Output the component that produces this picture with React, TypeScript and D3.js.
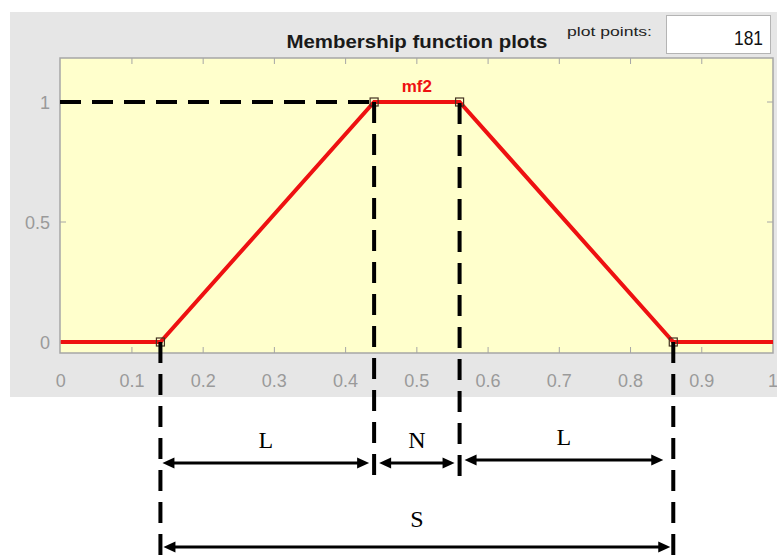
import * as d3 from "d3";

// membership function "mf2" (trapmf) and the curve drawn from it
const mfName = "mf2";
const mfParams = [0.14, 0.44, 0.56, 0.86];
const curveX = [0, 0.14, 0.44, 0.56, 0.86, 1];
const curveY = [0, 0, 1, 1, 0, 0];

const xTicks = [0, 0.1, 0.2, 0.3, 0.4, 0.5, 0.6, 0.7, 0.8, 0.9, 1];
const xTickLabels = ["0", "0.1", "0.2", "0.3", "0.4", "0.5", "0.6", "0.7", "0.8", "0.9", "1"];
const yTicks = [0, 0.5, 1];
const yTickLabels = ["0", "0.5", "1"];

// dimension annotations between consecutive breakpoints, and over the whole support
const spanLabels = ["L", "N", "L"];
const totalLabel = "S";
const plotPoints = "181";

const W = 777;
const H = 555;

const PLOT = { left: 60, right: 773, top: 58, bottom: 353 };

const x = d3.scaleLinear().domain([0, 1]).range([60.7, 773]);
const y = d3.scaleLinear().domain([0, 1]).range([342, 102]);

const uiFont = "'Liberation Sans', Arial, sans-serif";
const serif = "'Liberation Serif', 'Times New Roman', serif";

const Arrow = ({ x1, x2, yy }: { x1: number; x2: number; yy: number }) => {
  const h = 12;
  const w = 5.5;
  return (
    <g>
      <line x1={x1 + h - 1} x2={x2 - h + 1} y1={yy} y2={yy} stroke="#000" strokeWidth={3} />
      <path d={`M${x1},${yy} L${x1 + h},${yy - w} L${x1 + h},${yy + w} Z`} fill="#000" />
      <path d={`M${x2},${yy} L${x2 - h},${yy - w} L${x2 - h},${yy + w} Z`} fill="#000" />
    </g>
  );
};

export default function App() {
  const line = d3
    .line<number>()
    .x((d) => x(d))
    .y((_, i) => y(curveY[i]));

  const px = mfParams.map((p) => x(p));
  const dash = "21 11";

  return (
    <svg
      width={W}
      height={H}
      style={{ position: "absolute", left: 0, top: 0, display: "block", background: "#fff" }}
    >
      {/* gray figure panel */}
      <rect x={10} y={12} width={W - 10} height={385} fill="#e6e6e6" />

      <text
        x={417}
        y={48}
        textAnchor="middle"
        fontFamily={uiFont}
        fontWeight="bold"
        fontSize={18}
        textLength={261}
        lengthAdjust="spacingAndGlyphs"
        fill="#1a1a1a"
      >
        Membership function plots
      </text>
      <text
        x={567}
        y={36}
        fontFamily={uiFont}
        fontSize={13}
        textLength={85}
        lengthAdjust="spacingAndGlyphs"
        fill="#222"
      >
        plot points:
      </text>
      <rect x={666.5} y={15.5} width={104} height={38} fill="#fff" stroke="#b4b4b4" />
      <text
        x={734}
        y={45}
        fontFamily={uiFont}
        fontSize={21}
        textLength={29}
        lengthAdjust="spacingAndGlyphs"
        fill="#111"
      >
        {plotPoints}
      </text>

      {/* plot area */}
      <rect
        x={PLOT.left}
        y={PLOT.top}
        width={PLOT.right - PLOT.left}
        height={PLOT.bottom - PLOT.top}
        fill="#ffffcc"
        stroke="#a6a6a6"
        strokeWidth={1.5}
      />

      {xTicks.map((t, i) => (
        <g key={"xt" + i}>
          {i > 0 && i < xTicks.length - 1 && (
            <>
              <line x1={x(t)} x2={x(t)} y1={PLOT.bottom} y2={PLOT.bottom - 6} stroke="#a6a6a6" />
              <line x1={x(t)} x2={x(t)} y1={PLOT.top} y2={PLOT.top + 6} stroke="#a6a6a6" />
            </>
          )}
          <text
            x={x(t)}
            y={387}
            textAnchor="middle"
            fontFamily={uiFont}
            fontSize={18}
            fill="#9a9a9a"
          >
            {xTickLabels[i]}
          </text>
        </g>
      ))}

      {yTicks.map((t, i) => (
        <g key={"yt" + i}>
          <line x1={PLOT.left} x2={PLOT.left + 6} y1={y(t)} y2={y(t)} stroke="#a6a6a6" />
          <line x1={PLOT.right} x2={PLOT.right - 6} y1={y(t)} y2={y(t)} stroke="#a6a6a6" />
          <text
            x={50}
            y={y(t) + 6.5}
            textAnchor="end"
            fontFamily={uiFont}
            fontSize={18}
            fill="#9a9a9a"
          >
            {yTickLabels[i]}
          </text>
        </g>
      ))}

      {/* membership curve */}
      <path d={line(curveX) ?? ""} fill="none" stroke="#ee1111" strokeWidth={4} />
      {mfParams.map((p, i) => (
        <rect
          key={"m" + i}
          x={x(p) - 4}
          y={y(i === 0 || i === 3 ? 0 : 1) - 4}
          width={8}
          height={8}
          fill="none"
          stroke="#443322"
          strokeWidth={1.2}
        />
      ))}
      <text
        x={(px[1] + px[2]) / 2}
        y={92}
        textAnchor="middle"
        fontFamily={uiFont}
        fontWeight="bold"
        fontSize={17}
        fill="#ee1111"
      >
        {mfName}
      </text>

      {/* dashed construction lines (the middle ones are dashed from their lower end) */}
      <line x1={PLOT.left} x2={px[1]} y1={y(1)} y2={y(1)} stroke="#000" strokeWidth={4} strokeDasharray={dash} />
      <line x1={px[1]} x2={px[1]} y1={475} y2={y(1)} stroke="#000" strokeWidth={4} strokeDasharray={dash} />
      <line x1={px[2]} x2={px[2]} y1={476} y2={y(1)} stroke="#000" strokeWidth={4} strokeDasharray={dash} />
      <line x1={px[0]} x2={px[0]} y1={y(0)} y2={H} stroke="#000" strokeWidth={4} strokeDasharray={dash} />
      <line x1={px[3]} x2={px[3]} y1={y(0)} y2={H} stroke="#000" strokeWidth={4} strokeDasharray={dash} />

      {/* dimension arrows */}
      {spanLabels.map((lab, i) => {
        const a = px[i] + (i === 0 ? 2 : 5);
        const b = px[i + 1] - (i === 2 ? 10 : 5);
        const yy = i === 2 ? 460 : 463;
        return (
          <g key={"s" + i}>
            <Arrow x1={a} x2={b} yy={yy} />
            <text
              x={(a + b) / 2}
              y={yy - 15}
              textAnchor="middle"
              fontFamily={serif}
              fontSize={24}
              fill="#000"
            >
              {lab}
            </text>
          </g>
        );
      })}
      <Arrow x1={px[0] + 3} x2={px[3] - 3} yy={547} />
      <text x={(px[0] + px[3]) / 2} y={527} textAnchor="middle" fontFamily={serif} fontSize={24} fill="#000">
        {totalLabel}
      </text>
    </svg>
  );
}
